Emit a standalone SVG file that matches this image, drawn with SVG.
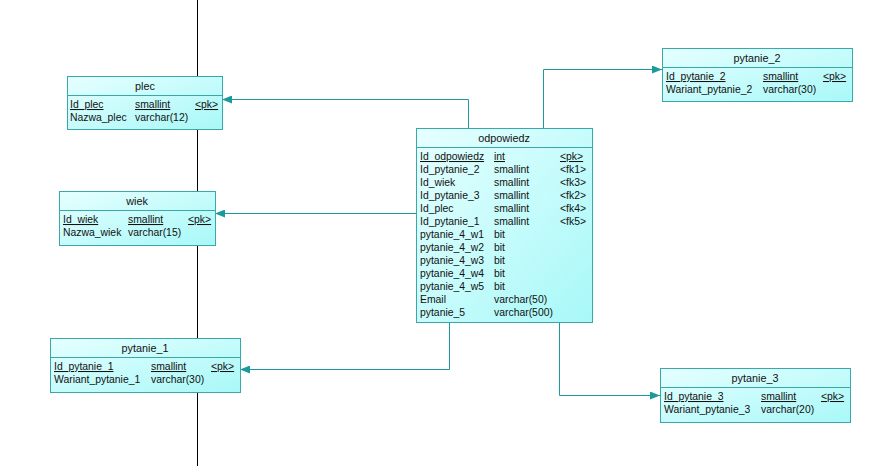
<svg xmlns="http://www.w3.org/2000/svg" width="878" height="466" viewBox="0 0 878 466">
<defs>
<linearGradient id="g" x1="0" y1="0" x2="1" y2="1">
<stop offset="0" stop-color="#e6ffff"/>
<stop offset="1" stop-color="#a8f8f8"/>
</linearGradient>
<marker id="arr" viewBox="0 0 10 8" refX="10" refY="4" markerWidth="10" markerHeight="8" markerUnits="userSpaceOnUse" orient="auto">
<path d="M0,0 L10,4 L0,8 Z" fill="#1a9a9a"/>
</marker>
</defs>
<style>
.box{fill:url(#g);stroke:#3aa8a8;stroke-width:1}
.sep{stroke:#3aa8a8;stroke-width:1}
text{font-family:"Liberation Sans",Arial,sans-serif;font-size:10.4px;fill:#111}
.t{text-anchor:middle;font-size:10.8px}
.u{text-decoration:underline}
.c{fill:none;stroke:#1a9a9a;stroke-width:1}
</style>
<rect width="878" height="466" fill="#fff"/>
<line x1="197.5" y1="0" x2="197.5" y2="466" stroke="#000" stroke-width="1"/>
<g id="connectors">
<path class="c" d="M468.5,128 V99.5 H222" marker-end="url(#arr)"/>
<path class="c" d="M416,213.5 H215" marker-end="url(#arr)"/>
<path class="c" d="M449.5,322 V369.5 H240" marker-end="url(#arr)"/>
<path class="c" d="M543.5,128 V69.5 H662" marker-end="url(#arr)"/>
<path class="c" d="M559.5,322 V395.5 H660" marker-end="url(#arr)"/>
</g>
<g id="plec">
<rect class="box" x="67.5" y="76.5" width="155" height="53"/>
<line class="sep" x1="67.5" y1="95.5" x2="222.5" y2="95.5"/>
<text class="t" x="145" y="90">plec</text>
<text class="u" x="70" y="108">Id_plec</text><text class="u" x="135" y="108">smallint</text><text class="u" x="195" y="108">&lt;pk&gt;</text>
<text x="70" y="121">Nazwa_plec</text><text x="135" y="121">varchar(12)</text>
</g>
<g id="wiek">
<rect class="box" x="59.5" y="191.5" width="156" height="54"/>
<line class="sep" x1="59.5" y1="210.5" x2="215.5" y2="210.5"/>
<text class="t" x="137" y="205">wiek</text>
<text class="u" x="63" y="223">Id_wiek</text><text class="u" x="128" y="223">smallint</text><text class="u" x="188" y="223">&lt;pk&gt;</text>
<text x="63" y="236">Nazwa_wiek</text><text x="128" y="236">varchar(15)</text>
</g>
<g id="pytanie_1">
<rect class="box" x="50.5" y="338.5" width="190" height="54"/>
<line class="sep" x1="50.5" y1="357.5" x2="240.5" y2="357.5"/>
<text class="t" x="145" y="352">pytanie_1</text>
<text class="u" x="54" y="370">Id_pytanie_1</text><text class="u" x="151" y="370">smallint</text><text class="u" x="211" y="370">&lt;pk&gt;</text>
<text x="54" y="383">Wariant_pytanie_1</text><text x="151" y="383">varchar(30)</text>
</g>
<g id="odpowiedz">
<rect class="box" x="416.5" y="128.5" width="176" height="194"/>
<line class="sep" x1="416.5" y1="147.5" x2="592.5" y2="147.5"/>
<text class="t" x="504" y="142">odpowiedz</text>
<text class="u" x="420" y="160">Id_odpowiedz</text><text class="u" x="494" y="160">int</text><text class="u" x="560" y="160">&lt;pk&gt;</text>
<text x="420" y="173">Id_pytanie_2</text><text x="494" y="173">smallint</text><text x="560" y="173">&lt;fk1&gt;</text>
<text x="420" y="186">Id_wiek</text><text x="494" y="186">smallint</text><text x="560" y="186">&lt;fk3&gt;</text>
<text x="420" y="199">Id_pytanie_3</text><text x="494" y="199">smallint</text><text x="560" y="199">&lt;fk2&gt;</text>
<text x="420" y="212">Id_plec</text><text x="494" y="212">smallint</text><text x="560" y="212">&lt;fk4&gt;</text>
<text x="420" y="225">Id_pytanie_1</text><text x="494" y="225">smallint</text><text x="560" y="225">&lt;fk5&gt;</text>
<text x="420" y="238">pytanie_4_w1</text><text x="494" y="238">bit</text>
<text x="420" y="251">pytanie_4_w2</text><text x="494" y="251">bit</text>
<text x="420" y="264">pytanie_4_w3</text><text x="494" y="264">bit</text>
<text x="420" y="277">pytanie_4_w4</text><text x="494" y="277">bit</text>
<text x="420" y="290">pytanie_4_w5</text><text x="494" y="290">bit</text>
<text x="420" y="303">Email</text><text x="494" y="303">varchar(50)</text>
<text x="420" y="316">pytanie_5</text><text x="494" y="316">varchar(500)</text>
</g>
<g id="pytanie_2">
<rect class="box" x="662.5" y="48.5" width="190" height="53"/>
<line class="sep" x1="662.5" y1="67.5" x2="852.5" y2="67.5"/>
<text class="t" x="757" y="62">pytanie_2</text>
<text class="u" x="666" y="80">Id_pytanie_2</text><text class="u" x="763" y="80">smallint</text><text class="u" x="823" y="80">&lt;pk&gt;</text>
<text x="666" y="93">Wariant_pytanie_2</text><text x="763" y="93">varchar(30)</text>
</g>
<g id="pytanie_3">
<rect class="box" x="660.5" y="368.5" width="190" height="54"/>
<line class="sep" x1="660.5" y1="387.5" x2="850.5" y2="387.5"/>
<text class="t" x="755" y="382">pytanie_3</text>
<text class="u" x="664" y="400">Id_pytanie_3</text><text class="u" x="761" y="400">smallint</text><text class="u" x="821" y="400">&lt;pk&gt;</text>
<text x="664" y="413">Wariant_pytanie_3</text><text x="761" y="413">varchar(20)</text>
</g>
</svg>
